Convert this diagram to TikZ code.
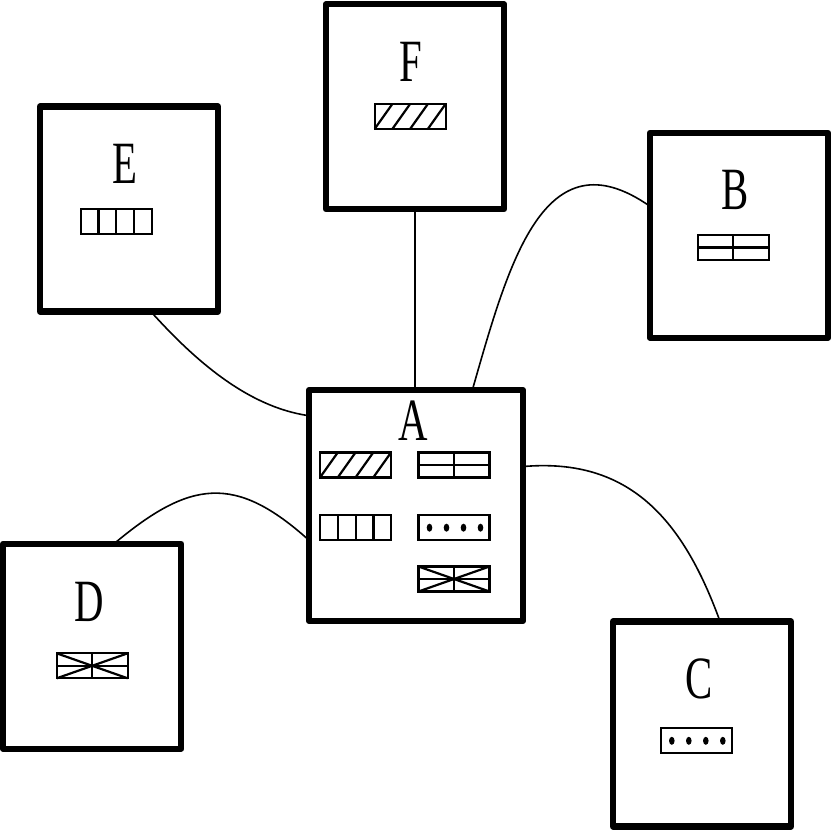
\documentclass[tikz,border=0pt]{standalone}
\usepackage{fontspec}
\setmainfont{Liberation Serif}
\usepackage{tikz}
\usetikzlibrary{positioning, calc}

\newcommand{\narrow}[1]{\scalebox{0.68}[1]{#1}}

\tikzset{
    station/.style={draw, line width=6.2pt, line join=round, minimum width=178pt,
        minimum height=205pt, inner sep=0pt, outer sep=0pt},
    stationname/.style={font=\fontsize{60}{60}\selectfont, inner sep=0pt, outer sep=0pt},
    link/.style={line width=1.6pt},
    glyph/.style={line width=2.2pt},
    pics/hatchbox/.style={code={
        \draw[glyph] (-35.5,-12.5) rectangle (35.5,12.5);
        \foreach \i in {0,...,3}
            \draw[glyph] ({-35.5+17.75*\i},-12.5) -- ({-35.5+17.75*(\i+1)},12.5);
    }},
    pics/splitbox/.style={code={
        \draw[glyph] (-35.5,-12.5) rectangle (35.5,12.5);
        \draw[glyph] (-35.5,0) -- (35.5,0) (0,-12.5) -- (0,12.5);
    }},
    pics/cellbox/.style={code={
        \draw[glyph] (-35.5,-12.5) rectangle (35.5,12.5);
        \foreach \i in {1,2,3}
            \draw[glyph] ({-35.5+17.75*\i},-12.5) -- ({-35.5+17.75*\i},12.5);
    }},
    pics/dotbox/.style={code={
        \draw[glyph] (-35.5,-12.5) rectangle (35.5,12.5);
        \foreach \i in {0,...,3}
            \fill ({-24.5+17*\i},0) ellipse (2.8 and 4);
    }},
    pics/crossbox/.style={code={
        \draw[glyph] (-35.5,-12.5) rectangle (35.5,12.5);
        \draw[glyph] (-35.5,0) -- (35.5,0) (0,-12.5) -- (0,12.5);
        \draw[glyph] (-35.5,-12.5) -- (35.5,12.5) (-35.5,12.5) -- (35.5,-12.5);
    }}
}

\begin{document}
\begin{tikzpicture}[x=1pt, y=1pt]
    \useasboundingbox (0,0) rectangle (831,-832);

    % Stations
    \node[station, minimum width=214pt, minimum height=231pt] (A) at (416,-505.5) {};
    \node[station] (B) at (739,-235.25) {};
    \node[station] (C) at (702,-724) {};
    \node[station] (D) at (92.25,-646.25) {};
    \node[station] (E) at (129,-209) {};
    \node[station] (F) at (415,-106.75) {};

    % Names
    \node[stationname] (nameA) at (413.5,-421) {\narrow{A}};
    \node[stationname] (nameB) at (735.5,-189.5) {\narrow{B}};
    \node[stationname] (nameC) at (699,-679) {\narrow{C}};
    \node[stationname] (nameD) at (89,-602) {\narrow{D}};
    \node[stationname] (nameE) at (124.5,-164) {\narrow{E}};
    \node[stationname] (nameF) at (411,-62) {\narrow{F}};

    % Symbols
    \pic at (355.5,-465) {hatchbox};
    \pic at (454,-465) {splitbox};
    \pic at (355.8,-527.5) {cellbox};
    \pic at (454,-527.7) {dotbox};
    \pic at (454,-579) {crossbox};
    \pic at (733.3,-247.5) {splitbox};
    \pic at (696.3,-740.8) {dotbox};
    \pic at (92.2,-665.8) {crossbox};
    \pic at (116.3,-221.8) {cellbox};
    \pic at (410.3,-116.2) {hatchbox};

    % Links
    \draw[link] (F.south) -- (F.south |- A.north);
    \draw[link] (A.64.5) to[out=74, in=145, looseness=1.3] (B.162.6);
    \draw[link] (A.20) to[out=5, in=110, looseness=1.1] (C.80.6);
    \draw[link] (D.78.5) to[out=40, in=138, looseness=1.3] (A.198.8);
    \draw[link] (E.-78.4) to[out=-48, in=172, looseness=0.85] (A.140.1);
\end{tikzpicture}
\end{document}
